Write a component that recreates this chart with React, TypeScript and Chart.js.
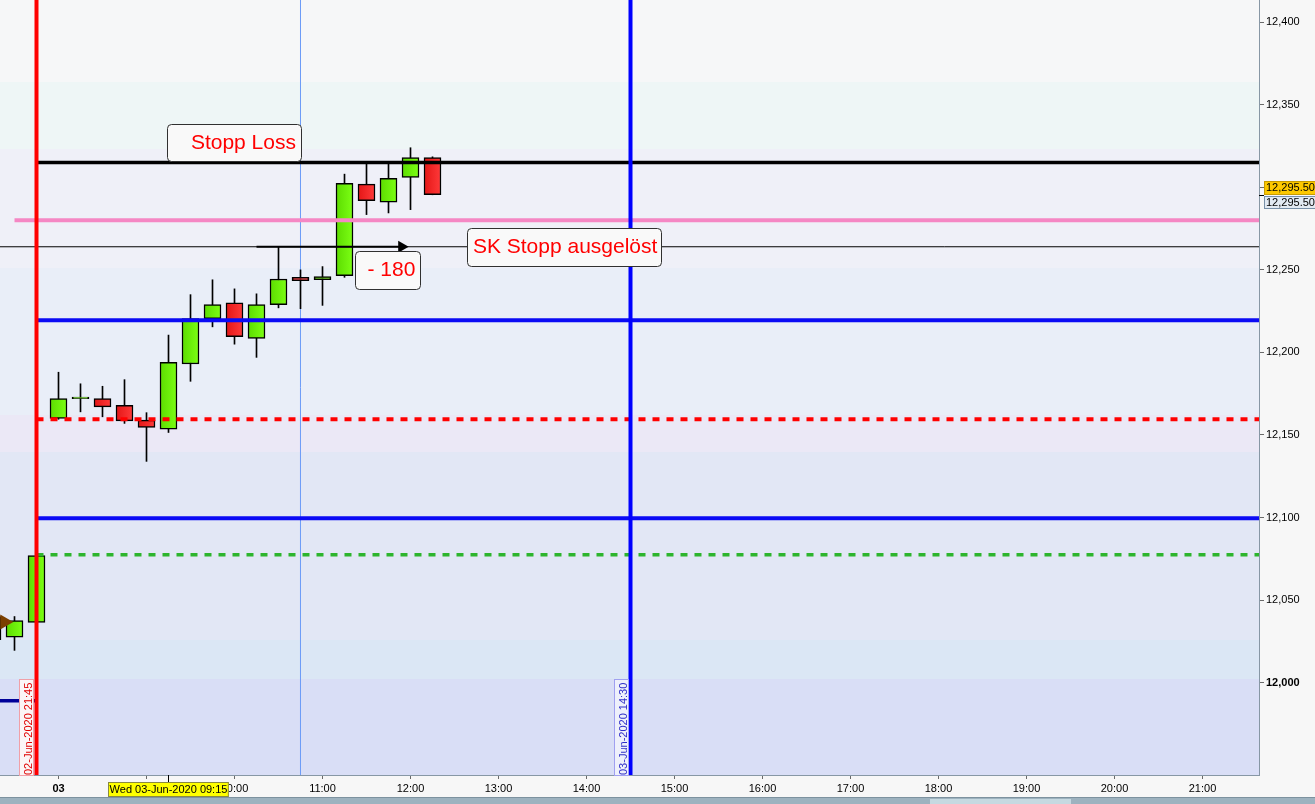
import React, { useEffect, useRef } from "react";
import { Chart, registerables } from "chart.js";

Chart.register(...registerables);

const FONT = "'Liberation Sans', Arial, Helvetica, sans-serif";

// ---------------- data ----------------
// 15-minute candle slots, overnight gap removed:
// 0 = 02-Jun 21:30, 1 = 02-Jun 21:45, 2 = 03-Jun 08:00, 3 = 08:15 ... 19 = 12:15
const candleSlots = [-1, 0, 1, 2, 3, 4, 5, 6, 7, 8, 9, 10, 11, 12, 13, 14, 15, 16, 17, 18, 19];
const opens = [12026, 12027.5, 12036.5, 12160, 12172, 12172, 12168, 12159, 12153.5, 12193, 12220.5, 12230, 12208.5, 12229, 12245.5, 12244, 12246.5, 12302, 12291, 12306, 12318];
const highs = [12044, 12040, 12079, 12188, 12181, 12179.5, 12183.5, 12163.5, 12210.5, 12235, 12244, 12238.5, 12235.5, 12264, 12250, 12252, 12308, 12315.5, 12314, 12324, 12318.5];
const lows = [12022, 12019.5, 12035, 12159.5, 12164, 12161, 12157, 12134, 12151.5, 12182.5, 12215.5, 12205, 12197, 12227, 12226.5, 12228.5, 12245.5, 12283.5, 12284.5, 12286.5, 12295.5];
const closes = [12040, 12037.5, 12077, 12172, 12173, 12167, 12158.5, 12154.5, 12194, 12220.5, 12229, 12209.5, 12229, 12244.5, 12243.5, 12246, 12302.5, 12292, 12305.5, 12318, 12295.5];

const xTickSlots = [2, 6, 10, 14, 18, 22, 26, 30, 34, 38, 42, 46, 50, 54];
const xTickLabels = ["03", "09:00", "10:00", "11:00", "12:00", "13:00", "14:00", "15:00", "16:00", "17:00", "18:00", "19:00", "20:00", "21:00"];
const yTickValues = [12000, 12050, 12100, 12150, 12200, 12250, 12300, 12350, 12400];

// horizontal levels: stop loss, pink, SK stop, blue, red dashed, blue, green dashed, navy
const levelValues = [12315, 12280, 12264, 12219.5, 12159.5, 12099.5, 12077.5, 11989];
const levelFromSlot = [1, 0, null, 1, 1, 1, 1, null];
const levelToSlot = [null, null, null, null, null, null, null, 1];

const markerSlots = [1, 28];
const markerLabels = ["02-Jun-2020 21:45", "03-Jun-2020 14:30"];
const crosshairSlot = 13;
const cursorSlot = 7;
const cursorLabel = "Wed 03-Jun-2020 09:15";

const arrowFromSlot = 11;
const arrowToSlot = 17.6;
const arrowValue = 12264;

const entrySlot = -0.45;
const entryValue = 12036.7;

const noteTexts = ["Stopp Loss", "SK Stopp ausgelöst", "- 180"];
const noteSlots = [6.945, 20.58, 15.49];
const noteTopValues = [12338.2, 12275.2, 12261.4];

// ---------------- styles ----------------
const levelColors = ["#000000", "#f587c4", "#000000", "#0a0af5", "#ff0000", "#0a0af5", "#2db52d", "#000099"];
const levelWidths = [3.5, 4, 1, 4, 4, 4, 3.5, 3.5];
const levelDashes: number[][] = [[], [], [], [], [7, 7], [], [7, 7], []];
const markerColors = ["#ff0000", "#0000ff"];
const markerTextColors = ["#e00000", "#3030c8"];
const markerBoxBorders = ["#f0a0a8", "#a0a0f0"];
const markerBoxFills = ["#fbf5f6", "#eef0fb"];
const noteWidths = [134, 194, 65];
const noteHeights = [37, 38, 38];
const noteTextDx = [23.4, 5.4, 12];

const bandTops = [12413.5, 12363.8, 12323.2, 12251.1, 12162.1, 12139.7, 12025.8, 12002.2];
const bandColors = ["#f6f7f8", "#eef6f6", "#eff0f8", "#e9eef8", "#ebe8f6", "#e2e7f5", "#dbe7f5", "#d9def6"];

const X_MIN = -0.659;
const X_MAX = 56.568;
const Y_MIN = 11944;
const Y_MAX = 12413.5;

function fmt(v: number, dec = 0) {
  return v.toLocaleString("en-US", { minimumFractionDigits: dec, maximumFractionDigits: dec });
}

function roundRect(ctx: CanvasRenderingContext2D, x: number, y: number, w: number, h: number, r: number) {
  ctx.beginPath();
  ctx.moveTo(x + r, y);
  ctx.lineTo(x + w - r, y);
  ctx.quadraticCurveTo(x + w, y, x + w, y + r);
  ctx.lineTo(x + w, y + h - r);
  ctx.quadraticCurveTo(x + w, y + h, x + w - r, y + h);
  ctx.lineTo(x + r, y + h);
  ctx.quadraticCurveTo(x, y + h, x, y + h - r);
  ctx.lineTo(x, y + r);
  ctx.quadraticCurveTo(x, y, x + r, y);
  ctx.closePath();
}

export default function App() {
  const canvasRef = useRef<HTMLCanvasElement | null>(null);

  useEffect(() => {
    const canvas = canvasRef.current;
    if (!canvas) return;

    const bodyFill = (c: any) => {
      const k = c.dataIndex;
      if (k === undefined || k === null) return "#66ee00";
      const up = closes[k] >= opens[k];
      const solid = up ? "#66ee00" : "#f42020";
      const xs = c.chart.scales && c.chart.scales.x;
      if (!xs) return solid;
      const px = xs.getPixelForValue(candleSlots[k]);
      if (!Number.isFinite(px)) return solid;
      const g = c.chart.ctx.createLinearGradient(px - 8.5, 0, px + 8.5, 0);
      if (up) {
        g.addColorStop(0, "#5cdc00");
        g.addColorStop(1, "#7cff14");
      } else {
        g.addColorStop(0, "#e41616");
        g.addColorStop(1, "#ff3a3a");
      }
      return g;
    };

    const datasets: any[] = [];

    // vertical markers
    markerSlots.forEach((s, k) => {
      datasets.push({
        type: "line",
        data: [{ x: s, y: Y_MIN }, { x: s, y: Y_MAX }],
        borderColor: markerColors[k],
        borderWidth: 4,
        pointRadius: 0,
        clip: 0,
        order: 1,
      });
    });

    // arrow
    datasets.push({
      type: "line",
      data: [{ x: arrowFromSlot, y: arrowValue }, { x: arrowToSlot, y: arrowValue }],
      borderColor: "#000000",
      borderWidth: 2,
      pointRadius: [0, 7],
      pointStyle: "triangle",
      rotation: 90,
      pointBackgroundColor: "#000000",
      pointBorderWidth: 0,
      clip: 0,
      order: 2,
    });

    // entry marker
    datasets.push({
      type: "line",
      data: [{ x: entrySlot, y: entryValue }],
      showLine: false,
      pointRadius: 8.7,
      pointStyle: "triangle",
      rotation: 90,
      pointBackgroundColor: "#7b3f00",
      pointBorderWidth: 0,
      clip: 0,
      order: 2,
    });

    // horizontal levels
    levelValues.forEach((v, k) => {
      const from = levelFromSlot[k] === null ? X_MIN : (levelFromSlot[k] as number);
      const to = levelToSlot[k] === null ? X_MAX : (levelToSlot[k] as number);
      datasets.push({
        type: "line",
        data: [{ x: from, y: v }, { x: to, y: v }],
        borderColor: levelColors[k],
        borderWidth: levelWidths[k],
        borderDash: levelDashes[k],
        borderCapStyle: "butt",
        pointRadius: 0,
        clip: 0,
        order: 3,
      });
    });

    // candle bodies
    datasets.push({
      type: "bar",
      data: candleSlots.map((s, k) => ({ x: s, y: [opens[k], closes[k]] })),
      backgroundColor: bodyFill,
      borderColor: "#000000",
      borderWidth: 1.5,
      borderSkipped: false,
      barThickness: 17,
      grouped: false,
      order: 4,
    });

    // wicks
    datasets.push({
      type: "bar",
      data: candleSlots.map((s, k) => ({ x: s, y: [lows[k], highs[k]] })),
      backgroundColor: "#000000",
      borderWidth: 0,
      barThickness: 1,
      grouped: false,
      order: 5,
    });

    // crosshair vertical (behind candles)
    datasets.push({
      type: "line",
      data: [{ x: crosshairSlot, y: Y_MIN }, { x: crosshairSlot, y: Y_MAX }],
      borderColor: "#6b9bf7",
      borderWidth: 1,
      pointRadius: 0,
      clip: 0,
      order: 6,
    });

    const decor = {
      id: "decor",
      beforeDraw(chart: any) {
        const { ctx, chartArea: a, scales } = chart;
        const y = scales.y;
        ctx.save();
        ctx.fillStyle = "#f7f7f7";
        ctx.fillRect(0, 0, chart.width, chart.height);
        for (let k = 0; k < bandTops.length; k++) {
          const t = Math.max(a.top, Math.round(y.getPixelForValue(bandTops[k])));
          const b = k + 1 < bandTops.length ? Math.round(y.getPixelForValue(bandTops[k + 1])) : a.bottom;
          ctx.fillStyle = bandColors[k];
          ctx.fillRect(a.left, t, a.right - a.left, Math.min(a.bottom, b) - t);
        }
        ctx.restore();
      },
      afterDatasetsDraw(chart: any) {
        const { ctx, chartArea: a, scales } = chart;
        const x = scales.x;
        const y = scales.y;
        ctx.save();
        // vertical marker labels
        markerSlots.forEach((s, k) => {
          const lx = Math.round(x.getPixelForValue(s));
          const right = lx - 2;
          const w = 15;
          const top = a.bottom - 96;
          ctx.fillStyle = markerBoxFills[k];
          ctx.fillRect(right - w, top, w, a.bottom - top);
          ctx.strokeStyle = markerBoxBorders[k];
          ctx.lineWidth = 1;
          ctx.strokeRect(right - w + 0.5, top + 0.5, w - 1, a.bottom - top);
          ctx.save();
          ctx.beginPath();
          ctx.rect(right - w, top, w, a.bottom - top);
          ctx.clip();
          ctx.translate(right - 2, a.bottom);
          ctx.rotate(-Math.PI / 2);
          ctx.fillStyle = markerTextColors[k];
          ctx.font = `11px ${FONT}`;
          ctx.textAlign = "left";
          ctx.textBaseline = "alphabetic";
          ctx.fillText(markerLabels[k], 0, 0);
          ctx.restore();
        });
        // note boxes
        noteTexts.forEach((t, k) => {
          const left = Math.round(x.getPixelForValue(noteSlots[k])) + 0.5;
          const top = Math.round(y.getPixelForValue(noteTopValues[k])) + 0.5;
          roundRect(ctx, left, top, noteWidths[k], noteHeights[k], 4);
          ctx.fillStyle = "#f9f9f9";
          ctx.fill();
          ctx.strokeStyle = "#303030";
          ctx.lineWidth = 1;
          ctx.stroke();
          ctx.fillStyle = "#ff0000";
          ctx.font = `21px ${FONT}`;
          ctx.textAlign = "left";
          ctx.textBaseline = "alphabetic";
          ctx.fillText(t, left + noteTextDx[k], top + 24);
        });
        ctx.restore();
      },
      afterDraw(chart: any) {
        const { ctx, chartArea: a, scales } = chart;
        const x = scales.x;
        const y = scales.y;
        ctx.save();
        // last price labels
        const last = closes[closes.length - 1];
        const py = Math.round(y.getPixelForValue(last));
        ctx.strokeStyle = "#000";
        ctx.lineWidth = 1;
        ctx.beginPath();
        ctx.moveTo(a.right, py + 0.5);
        ctx.lineTo(a.right + 5, py + 0.5);
        ctx.stroke();
        ctx.fillStyle = "#fcc800";
        ctx.fillRect(a.right + 5, py - 14, 52, 14);
        ctx.strokeStyle = "#c89c00";
        ctx.strokeRect(a.right + 5.5, py - 13.5, 52, 13);
        ctx.fillStyle = "#e2eaf3";
        ctx.fillRect(a.right + 5, py + 1, 52, 13);
        ctx.strokeStyle = "#7890a8";
        ctx.strokeRect(a.right + 5.5, py + 1.5, 52, 12);
        ctx.fillStyle = "#000";
        ctx.font = `11px ${FONT}`;
        ctx.textAlign = "left";
        ctx.textBaseline = "middle";
        ctx.fillText(fmt(last, 2), a.right + 7, py - 7);
        ctx.fillText(fmt(last, 2), a.right + 7, py + 8);

        // cursor time label on x axis
        const cx = Math.round(x.getPixelForValue(cursorSlot)) + 0.5;
        ctx.beginPath();
        ctx.moveTo(cx, a.bottom);
        ctx.lineTo(cx, a.bottom + 8);
        ctx.strokeStyle = "#000";
        ctx.stroke();
        ctx.font = `11px ${FONT}`;
        const tw = ctx.measureText(cursorLabel).width + 3;
        const bx = Math.round(cx - tw / 2);
        ctx.fillStyle = "#ffff00";
        ctx.fillRect(bx, a.bottom + 7, tw, 15);
        ctx.strokeStyle = "#8a8a40";
        ctx.strokeRect(bx + 0.5, a.bottom + 7.5, tw - 1, 14);
        ctx.fillStyle = "#000";
        ctx.textAlign = "center";
        ctx.textBaseline = "middle";
        ctx.fillText(cursorLabel, cx, a.bottom + 15);

        // bottom toolbar strip
        ctx.fillStyle = "#9db2bf";
        ctx.fillRect(0, 797, chart.width, chart.height - 797);
        ctx.fillStyle = "#7d929f";
        ctx.fillRect(0, 797, chart.width, 1);
        ctx.fillStyle = "#c6d9e1";
        ctx.fillRect(930, 799, 141, chart.height - 799);
        ctx.restore();
      },
    };

    const chart = new Chart(canvas, {
      type: "bar",
      data: { datasets },
      options: {
        animation: false,
        responsive: false,
        devicePixelRatio: 1,
        events: [],
        layout: { padding: 0, autoPadding: false },
        plugins: { legend: { display: false }, tooltip: { enabled: false } },
        scales: {
          x: {
            type: "linear",
            min: X_MIN,
            max: X_MAX,
            offset: false,
            afterBuildTicks(s: any) {
              s.ticks = xTickSlots.map((v) => ({ value: v }));
            },
            afterFit(s: any) {
              s.height = 29;
              s.paddingLeft = 0;
              s.paddingRight = 0;
            },
            grid: { drawOnChartArea: false, drawTicks: true, tickLength: 4, color: "#6a6a6a", offset: false },
            border: { display: true, color: "#8797a5" },
            ticks: {
              autoSkip: false,
              maxRotation: 0,
              padding: 3,
              color: "#000",
              font: (c: any) => ({ family: FONT, size: 11, weight: c.tick && c.tick.value === 2 ? "bold" : "normal" }),
              callback: (v: any) => {
                const i = xTickSlots.indexOf(Number(v));
                return i >= 0 ? xTickLabels[i] : "";
              },
            },
          },
          y: {
            type: "linear",
            position: "right",
            min: Y_MIN,
            max: Y_MAX,
            afterBuildTicks(s: any) {
              s.ticks = yTickValues.map((v) => ({ value: v }));
            },
            afterFit(s: any) {
              s.width = 56;
              s.paddingTop = 0;
              s.paddingBottom = 0;
            },
            grid: { drawOnChartArea: false, drawTicks: true, tickLength: 5, color: "#6a6a6a" },
            border: { display: true, color: "#8797a5" },
            ticks: {
              padding: 2,
              color: "#000",
              font: (c: any) => ({ family: FONT, size: 11, weight: c.tick && c.tick.value === 12000 ? "bold" : "normal" }),
              callback: (v: any) => fmt(Number(v)),
            },
          },
        },
      } as any,
      plugins: [decor],
    } as any);

    return () => chart.destroy();
  }, []);

  return (
    <div style={{ position: "fixed", left: 0, top: 0, width: 1315, height: 804, background: "#f7f7f7" }}>
      <canvas ref={canvasRef} width={1315} height={804} style={{ display: "block", width: 1315, height: 804 }} />
    </div>
  );
}
